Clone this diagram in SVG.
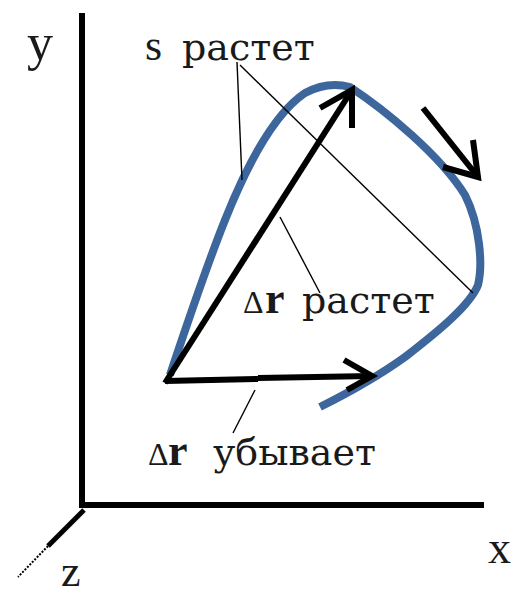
<svg xmlns="http://www.w3.org/2000/svg" width="516" height="595" viewBox="0 0 516 595">
<style>
.t{font-family:"Liberation Serif","DejaVu Serif","Times New Roman",serif;fill:#1a1a1a}
.c{font-family:"DejaVu Serif",serif;font-size:38px}
.ax{stroke:#000;stroke-width:6;fill:none}
.thin{stroke:#000;stroke-width:1.4;fill:none}
.arr{stroke:#000;stroke-width:6;fill:none;stroke-linecap:butt;stroke-linejoin:miter}
.curve{stroke:#3d679c;stroke-width:8;fill:none;stroke-linecap:butt;stroke-linejoin:round}
</style>
<rect width="516" height="595" fill="#fff"/>
<g id="axes">
<line class="ax" x1="82" y1="13" x2="82" y2="508"/>
<line class="ax" x1="79" y1="505" x2="484" y2="505"/>
<line x1="84" y1="510" x2="48" y2="546" stroke="#000" stroke-width="5"/>
<line x1="48" y1="546" x2="18" y2="577" stroke="#000" stroke-width="2" stroke-dasharray="2,1.5"/>
</g>
<g id="trajectory">
<path class="curve" d="M170,375 C185,330 205,270 225,220 C245,170 272,115 305,93 C320,85 335,83 350,87 C385,110 440,155 465,195 C480,225 483,265 478,285 C470,305 440,330 405,357 C380,375 350,392 320,407"/>
</g>
<g id="connectors">
<path class="arr" d="M165,383 L352,90"/>
<path class="arr" d="M320,108 L352,90 L352,128" stroke-width="7"/>
<path class="arr" d="M165,381 L258,379" stroke-width="7"/>
<path class="arr" d="M258,378 L372,376" stroke-width="4"/>
<path class="arr" d="M344,360 L372,376 L347,390"/>
<path class="arr" d="M423,108 L478,177"/>
<path class="arr" d="M473,140 L478,177 L443,167"/>
<path class="thin" d="M237,62 L242,180"/>
<path class="thin" d="M240,65 L473,293"/>
<path class="thin" d="M280,217 L320,293"/>
<path class="thin" d="M255,390 L233,433"/>
</g>
<g id="labels">
<text class="t" x="27" y="60" font-size="52">y</text>
<text class="t" y="60"><tspan x="145" font-size="44">s</tspan><tspan x="182" class="c">растет</tspan></text>
<text class="t" y="313"><tspan x="243" font-size="32">Δ</tspan><tspan x="265" font-size="44" font-weight="bold">r</tspan><tspan x="302" class="c">растет</tspan></text>
<text class="t" y="465"><tspan x="148" font-size="32">Δ</tspan><tspan x="168" font-size="44" font-weight="bold">r</tspan><tspan x="213" class="c">убывает</tspan></text>
<text class="t" x="488" y="563" font-size="46">x</text>
<text class="t" x="61" y="586" font-size="44">z</text>
</g>
</svg>
